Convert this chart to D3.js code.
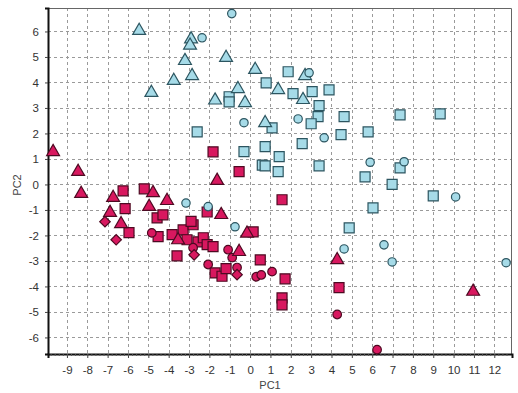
<!DOCTYPE html>
<html>
<head>
<meta charset="utf-8">
<script src="https://cdn.jsdelivr.net/npm/d3@7"></script>
<style>
  body { margin: 0; background: #fff; }
  svg text { font-family: "Liberation Sans", Arial, sans-serif; }
</style>
</head>
<body>
<div id="chart"></div>
<script>
// PCA scores
const blueTriangles = [[-5.45,6.03],[-2.9,5.7],[-2.95,5.45],[-3.2,4.85],[-2.85,4.26],[-3.75,4.07],[-4.85,3.6],[-1.18,4.97],[0.25,4.5],[-0.6,3.75],[-1.72,3.3],[-0.25,3.2],[1.38,3.71],[2.7,4.26],[2.6,3.32],[0.74,2.41]];
const blueSquares = [[-1.03,3.44],[-1.03,3.24],[-2.6,2.06],[-0.3,1.29],[1.87,4.42],[0.79,3.98],[2.11,3.56],[3.05,3.64],[3.88,3.71],[3.39,3.09],[3.34,2.66],[3.0,2.38],[4.62,2.66],[7.37,2.73],[9.34,2.77],[1.08,2.22],[4.47,1.95],[5.8,2.06],[2.56,1.6],[0.74,1.48],[1.43,1.09],[0.6,0.76],[0.74,0.73],[1.38,0.5],[3.39,0.73],[5.65,0.3],[7.37,0.65],[6.98,0.0],[9.0,-0.45],[6.04,-0.92],[4.87,-1.7]];
const blueCircles = [[-0.9,6.7],[-2.36,5.75],[-0.3,2.42],[2.36,2.57],[2.9,4.38],[3.64,1.83],[5.9,0.87],[7.57,0.89],[10.1,-0.49],[6.58,-2.37],[4.62,-2.53],[6.98,-3.04],[12.58,-3.07],[-3.15,-0.73],[-2.06,-0.87],[-0.74,-1.66]];
const redTriangles = [[-9.68,1.28],[-8.45,0.5],[-8.3,-0.36],[-1.62,0.15],[-6.73,-0.52],[-6.88,-1.11],[-6.34,-1.55],[-4.77,-0.33],[-4.96,-0.87],[-4.08,-0.64],[-1.42,-1.19],[-3.54,-2.18],[-0.15,-1.92],[-0.54,-2.64],[4.28,-2.96],[10.96,-4.2]];
const redSquares = [[-1.82,1.28],[-0.54,0.5],[1.57,-0.6],[-6.24,-0.25],[-5.2,-0.17],[-6.14,-0.95],[-5.95,-1.89],[-4.57,-1.31],[-4.28,-1.19],[-4.52,-2.05],[-3.83,-1.97],[-3.59,-2.8],[-3.29,-1.78],[-3.1,-2.17],[-2.8,-1.58],[-2.9,-1.45],[-2.56,-2.25],[-2.3,-2.09],[-2.11,-2.36],[-1.82,-2.44],[-2.11,-1.08],[-1.72,-3.47],[-1.38,-3.6],[-1.18,-3.3],[0.15,-1.86],[0.5,-2.96],[1.72,-3.7],[1.57,-4.45],[1.57,-4.72],[4.37,-4.05]];
const redCircles = [[-4.83,-1.9],[-2.8,-2.48],[-2.06,-3.14],[-1.08,-2.56],[-0.88,-2.87],[-0.64,-3.26],[0.3,-3.62],[0.55,-3.55],[1.08,-3.42],[4.28,-5.1],[6.24,-6.48]];
const redDiamonds = [[-7.13,-1.46],[-6.58,-2.17],[-2.75,-2.76],[-0.64,-3.54]];

const xTicks = [-9,-8,-7,-6,-5,-4,-3,-2,-1,0,1,2,3,4,5,6,7,8,9,10,11,12];
const yTicks = [-6,-5,-4,-3,-2,-1,0,1,2,3,4,5,6];

const width = 518, height = 393;
const plotL = 48, plotR = 512, plotT = 8, plotB = 354;

const svg = d3.select("#chart").append("svg")
  .attr("width", width)
  .attr("height", height);

const x = d3.scaleLinear().domain([-9.93, 12.87]).range([plotL, plotR]);
const y = d3.scaleLinear().domain([-6.65, 6.92]).range([plotB, plotT]);

// grid
const grid = svg.append("g").attr("stroke", "#9a9a9a").attr("stroke-width", 1).attr("stroke-dasharray", "3,3");
grid.selectAll(".gx").data(xTicks).enter().append("line")
  .attr("x1", d => Math.round(x(d)) + 0.5).attr("x2", d => Math.round(x(d)) + 0.5)
  .attr("y1", plotT).attr("y2", plotB);
grid.selectAll(".gy").data(yTicks).enter().append("line")
  .attr("y1", d => Math.round(y(d)) + 0.5).attr("y2", d => Math.round(y(d)) + 0.5)
  .attr("x1", plotL).attr("x2", plotR);

// frame: light top/right
svg.append("path")
  .attr("d", `M${plotL},${plotT + 0.5}H${plotR - 0.5}V${plotB}`)
  .attr("fill", "none").attr("stroke", "#666").attr("stroke-width", 1);

// axes
const fmt = d => String(d);
const xAxis = svg.append("g").attr("transform", `translate(0,${plotB})`)
  .call(d3.axisBottom(x).tickValues(xTicks).tickSize(4).tickPadding(8).tickFormat(fmt));
svg.append("g").attr("transform", `translate(0,${plotB})`)
  .call(d3.axisBottom(x).tickValues(d3.range(-9.8, 12.8, 0.2)).tickSize(2).tickFormat(""))
  .call(g => g.select(".domain").remove())
  .selectAll("line").attr("stroke", "#555");
const yAxis = svg.append("g").attr("transform", `translate(${plotL},0)`)
  .call(d3.axisLeft(y).tickValues(yTicks).tickSize(3).tickPadding(6).tickFormat(fmt));

[xAxis, yAxis].forEach(a => {
  a.select(".domain").attr("stroke", "#111").attr("stroke-width", 2);
  a.selectAll(".tick line").attr("stroke", "#444");
  a.selectAll("text").attr("font-size", 11.5).attr("fill", "#333");
});

svg.append("text").attr("x", 270).attr("y", 389)
  .attr("text-anchor", "middle").attr("font-size", 11).attr("fill", "#444").text("PC1");
svg.append("text").attr("transform", `translate(21,${(plotT + plotB) / 2 + 4}) rotate(-90)`)
  .attr("text-anchor", "middle").attr("font-size", 11).attr("fill", "#444").text("PC2");

// markers
const blue = { fill: "#a6dbe8", stroke: "#2c5560" };
const red = { fill: "#d8185f", stroke: "#4d0a22" };

function drawSeries(data, type, size, col, rot) {
  svg.append("g").selectAll("path").data(data).enter().append("path")
    .attr("transform", d => `translate(${x(d[0])},${y(d[1])})` + (rot ? ` rotate(${rot})` : ""))
    .attr("d", d3.symbol().type(type).size(size))
    .attr("fill", col.fill)
    .attr("stroke", col.stroke)
    .attr("stroke-width", 1.2);
}

drawSeries(redSquares, d3.symbolSquare, 100, red);
drawSeries(redCircles, d3.symbolCircle, 58, red);
drawSeries(redDiamonds, d3.symbolSquare, 55, red, 45);
drawSeries(redTriangles, d3.symbolTriangle, 72, red);
drawSeries(blueSquares, d3.symbolSquare, 100, blue);
drawSeries(blueTriangles, d3.symbolTriangle, 72, blue);
drawSeries(blueCircles, d3.symbolCircle, 55, blue);
</script>
</body>
</html>
